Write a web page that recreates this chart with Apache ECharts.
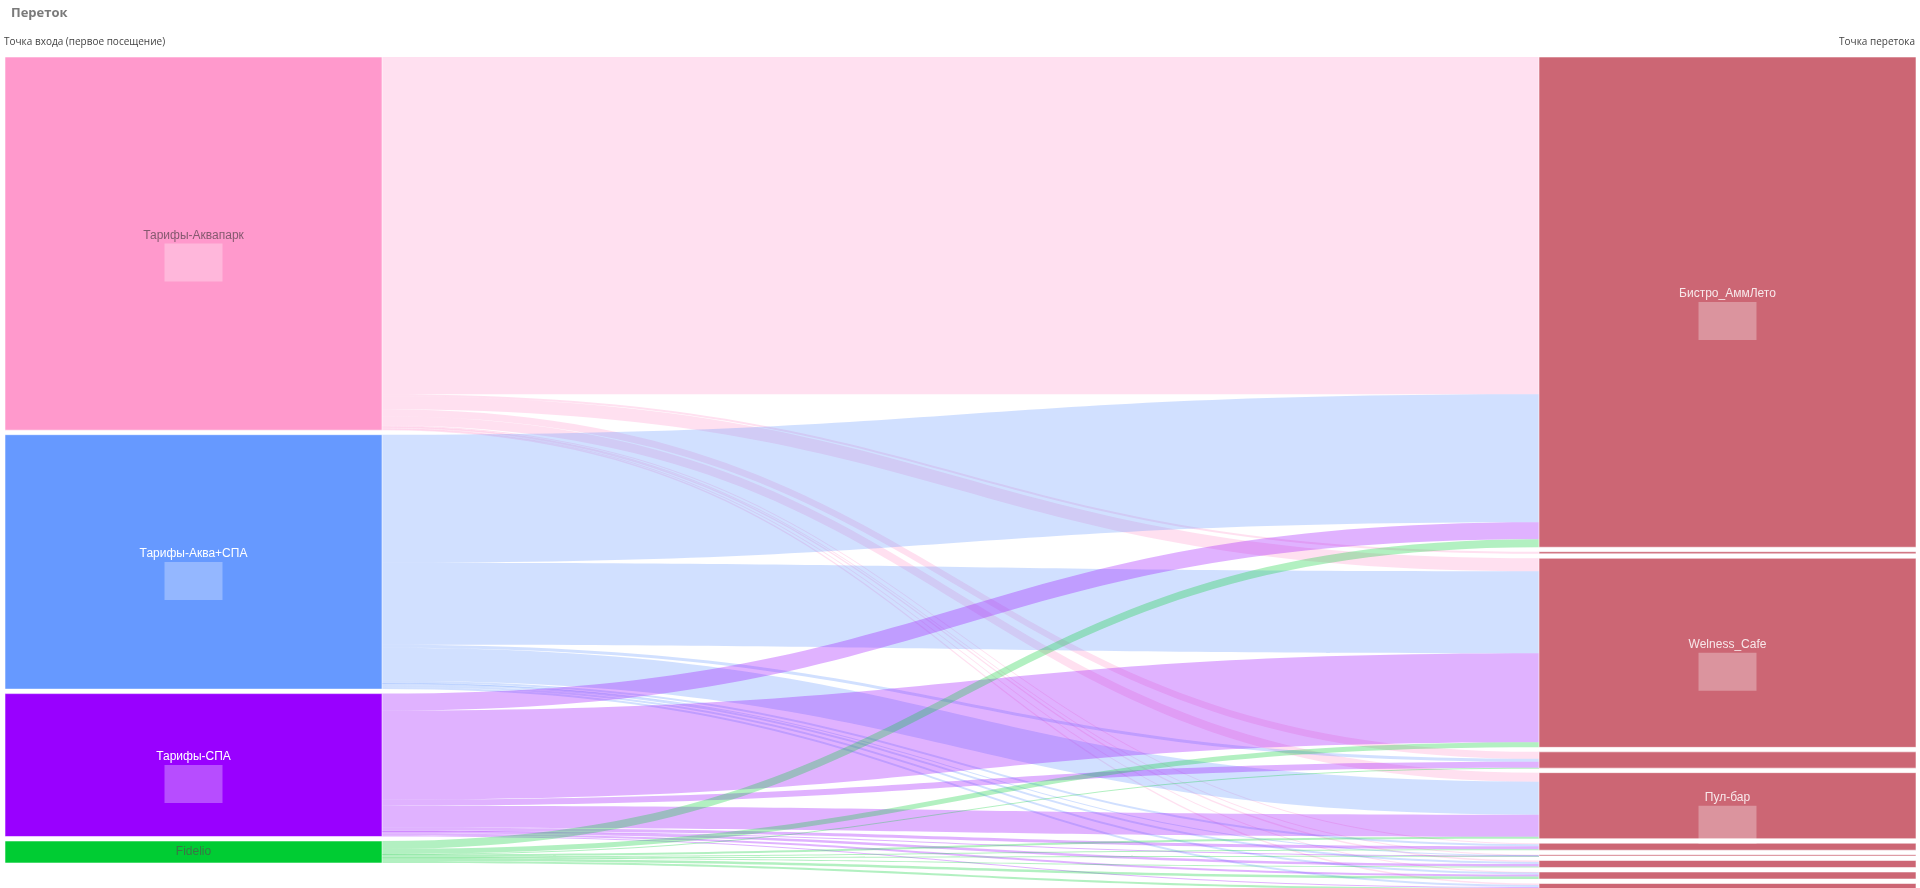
<!DOCTYPE html>
<html>
<head>
<meta charset="utf-8">
<title>Переток</title>
<script src="https://cdn.jsdelivr.net/npm/echarts@6/dist/echarts.min.js"></script>
<style>
  html, body { margin: 0; padding: 0; background: #fff; overflow: hidden; }
  #flow { width: 1920px; height: 888px; }
</style>
</head>
<body>
<div id="flow"></div>
<script>
// точки входа (левая колонка) и точки перетока (правая колонка)
const entryPoints = ['Тарифы-Аквапарк', 'Тарифы-Аква+СПА', 'Тарифы-СПА', 'Fidelio']
const flowPoints = ['Бистро_АммЛето', 'Лобби-бар', 'Welness_Cafe', 'Кофейня', 'Пул-бар',
  'Снек-бар', 'Фитобар', 'Ресторан', 'Кафе_Лагуна', 'Гриль-бар']

// переток из каждой точки входа, по порядку flowPoints
const fromAquapark = [337, 2, 13, 7, 9, 1, 0.5, 1.5, 0.5, 1.5]
const fromAquaSpa = [128, 0, 82, 3, 33, 2, 0.3, 2, 2, 2]
const fromSpa = [17, 0, 89, 6, 22, 3, 0.3, 2.5, 2, 1]
const fromFidelio = [8, 0, 5, 0.3, 2, 1, 0.2, 1, 2.5, 2]

// подписи показываем только у крупных узлов
const labeledFlow = ['Бистро_АммЛето', 'Welness_Cafe', 'Пул-бар']

const entryColors = ['#ff99cc', '#6699ff', '#9900ff', '#00cc33']
const entryText = ['#85596f', '#ffffff', '#ffffff', '#3a7546']
const entryBox = ['rgba(255,255,255,0.3)', 'rgba(255,255,255,0.3)', 'rgba(255,255,255,0.3)', null]
const flowColor = '#cc6674'

function nodeLabel(color, box) {
  if (!box) {
    return { show: true, position: 'inside', color: color, fontSize: 12, fontFamily: 'Liberation Sans, Arial, sans-serif' }
  }
  return {
    show: true,
    position: 'inside',
    offset: [0, 11],
    formatter: '{n|{b}}\n{v| }',
    rich: {
      n: { color: color, fontSize: 12, lineHeight: 16, fontFamily: 'Liberation Sans, Arial, sans-serif' },
      v: { width: 58, height: 38, lineHeight: 38, backgroundColor: box }
    }
  }
}

const nodes = []
entryPoints.forEach((name, i) => {
  nodes.push({
    name: name,
    itemStyle: { color: entryColors[i] },
    label: nodeLabel(entryText[i], entryBox[i])
  })
})
flowPoints.forEach((name) => {
  nodes.push({
    name: name,
    itemStyle: { color: flowColor },
    label: labeledFlow.indexOf(name) >= 0
      ? nodeLabel('rgba(255,255,255,0.85)', 'rgba(255,255,255,0.3)')
      : { show: false }
  })
})

const links = []
const flows = [fromAquapark, fromAquaSpa, fromSpa, fromFidelio]
flows.forEach((row, i) => {
  row.forEach((v, j) => {
    if (v > 0) {
      links.push({ source: entryPoints[i], target: flowPoints[j], value: v })
    }
  })
})

const myChart = echarts.init(document.getElementById('flow'))
const option = {
  animation: false,
  title: [
    {
      text: 'Переток',
      left: 11,
      top: 7,
      padding: 0,
      textStyle: { fontSize: 13, fontWeight: 'bold', color: '#7a7a7a', fontFamily: 'Open Sans, sans-serif' }
    },
    {
      text: 'Точка входа (первое посещение)',
      left: 4,
      top: 37,
      padding: 0,
      textStyle: { fontSize: 10, fontWeight: 'normal', color: '#444', fontFamily: 'Open Sans, sans-serif' }
    },
    {
      text: 'Точка перетока',
      right: 5,
      top: 37,
      padding: 0,
      textStyle: { fontSize: 10, fontWeight: 'normal', color: '#444', fontFamily: 'Open Sans, sans-serif' }
    }
  ],
  series: [
    {
      type: 'sankey',
      left: 5,
      top: 57,
      width: 1911,
      height: 833,
      nodeWidth: 377,
      nodeGap: 4.5,
      layoutIterations: 0,
      draggable: false,
      emphasis: { disabled: true },
      itemStyle: { borderWidth: 1, borderColor: 'rgba(255,255,255,0.55)' },
      lineStyle: { color: 'source', opacity: 0.3, curveness: 0.5 },
      data: nodes,
      links: links
    }
  ]
}
myChart.setOption(option)
</script>
</body>
</html>
